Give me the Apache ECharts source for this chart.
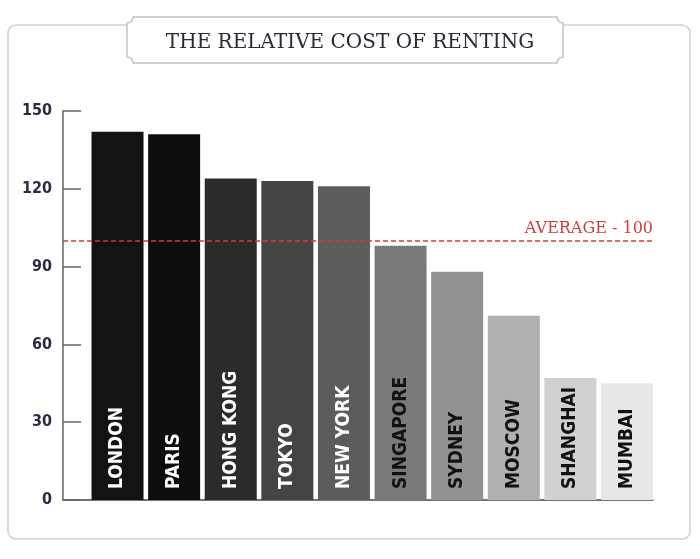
<html>
    <head>
        <meta charset="utf-8">
        <title></title>
        <script src="https://cdn.jsdelivr.net/npm/echarts@6/dist/echarts.min.js"></script>
        <style>body{margin:0;background:#fff;}</style>
    </head>
    <body>
        <div id="main" style="width:700px;height:559px;"></div>
    </body>
</html>

<script>
    // data
    var cities=['LONDON','PARIS','HONG KONG','TOKYO','NEW YORK','SINGAPORE','SYDNEY','MOSCOW','SHANGHAI','MUMBAI'];
    var rents=[142,141,124,123,121,98,88,71,47,45];
    var average=100;
    var yTicks=[0,30,60,90,120,150];

    // styles
    var barColors=['#151212','#0d0d0d','#2b2b2b','#444444','#5c5c5c','#7a7a7a','#929292','#b0b0b0','#d0d0d0','#e7e7e7'];
    var labelColors=['#fff','#fff','#fff','#fff','#fff','#111','#111','#111','#111','#111'];

    var narrow='"Liberation Sans Narrow","DejaVu Sans Condensed",sans-serif';
    var serif='"DejaVu Serif","Liberation Serif",serif';

    // title box outline with concave (notched) corners
    function notchedBox(x0,y0,x1,y1,r){
        var pts=[];
        var corners=[[x1,y0,Math.PI,Math.PI/2],[x1,y1,3*Math.PI/2,Math.PI],[x0,y1,0,-Math.PI/2],[x0,y0,Math.PI/2,0]];
        for(var c=0;c<corners.length;c++){
            var cx=corners[c][0],cy=corners[c][1],a0=corners[c][2],a1=corners[c][3];
            for(var k=0;k<=6;k++){
                var a=a0+(a1-a0)*k/6;
                pts.push([cx+r*Math.cos(a),cy+r*Math.sin(a)]);
            }
        }
        return pts;
    }

    window.onload=function(){
        var myChart=echarts.init(document.getElementById('main'));

        var barData=[];
        for(var i=0;i<cities.length;i++){
            barData.push({
                value:[i,rents[i]],
                itemStyle:{color:barColors[i]},
                label:{color:labelColors[i]}
            });
        }

        var option={
            animation:false,
            graphic:[
                {type:'rect',z:-10,shape:{x:8,y:25,width:682,height:514,r:8},
                    style:{fill:'#fff',stroke:'#cfcfcf',lineWidth:1.5}},
                {type:'polygon',z:-5,shape:{points:notchedBox(127,17,563,63,6)},
                    style:{fill:'#fff',stroke:'#c4c4c4',lineWidth:1.5}},
                {type:'text',z:-4,x:350,y:43,
                    style:{text:'THE RELATIVE COST OF RENTING',fill:'#2a2a35',
                        font:'20px '+serif,align:'center',verticalAlign:'middle'}}
            ],
            grid:{left:63,right:47,top:111,bottom:59,containLabel:false},
            xAxis:{
                type:'value',
                min:-0.963,
                max:9.459,
                axisLine:{show:true,onZero:false,lineStyle:{color:'#444',width:1.5}},
                axisTick:{show:false},
                axisLabel:{show:false},
                splitLine:{show:false}
            },
            yAxis:{
                type:'value',
                min:yTicks[0],
                max:yTicks[yTicks.length-1],
                interval:30,
                axisLine:{show:true,onZero:false,lineStyle:{color:'#666',width:1.5}},
                axisTick:{show:true,inside:true,length:18,lineStyle:{color:'#666',width:1.5}},
                axisLabel:{color:'#2b2b45',fontFamily:narrow,fontWeight:'bold',fontSize:16,margin:11},
                splitLine:{show:false}
            },
            series:[{
                type:'bar',
                barWidth:52,
                data:barData,
                label:{
                    show:true,
                    position:'insideBottom',
                    rotate:90,
                    align:'left',
                    verticalAlign:'middle',
                    distance:11,
                    fontFamily:narrow,
                    fontWeight:'bold',
                    fontSize:19,
                    formatter:function(p){return cities[p.dataIndex];}
                },
                markLine:{
                    silent:true,
                    symbol:'none',
                    lineStyle:{color:'#d33a3a',type:[5,3],width:1.5},
                    label:{
                        position:'insideEndTop',
                        formatter:'AVERAGE - 100',
                        color:'#d33a3a',
                        fontFamily:serif,
                        fontSize:16,
                        distance:[0,4]
                    },
                    data:[{yAxis:average}]
                }
            }]
        };

        myChart.setOption(option);
    }
</script>
